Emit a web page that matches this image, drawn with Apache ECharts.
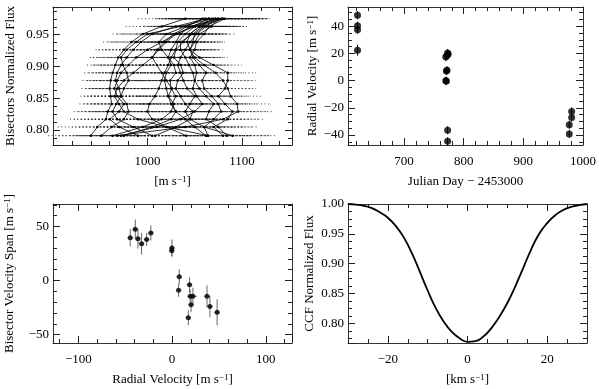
<!DOCTYPE html>
<html>
<head>
<meta charset="utf-8">
<script src="https://cdn.jsdelivr.net/npm/echarts@6/dist/echarts.min.js"></script>
<style>
html, body { margin: 0; padding: 0; background: #fff; }
#main { width: 599px; height: 389px; }
</style>
</head>
<body>
<div id="main"></div>
<script>
// bisector levels (bottom -> top) and one array of velocities per bisector
var levels = [0.7910, 0.8047, 0.8169, 0.8289, 0.8410, 0.8532, 0.8652, 0.8778,
              0.8900, 0.9022, 0.9142, 0.9263, 0.9385, 0.9511, 0.9631, 0.9753];
var levelErr = [45, 42, 38, 36, 34, 32, 30, 30, 30, 30, 30, 30, 30, 32, 38, 50];
var bisectors = [
    [940, 947, 956, 958, 962, 961, 960, 961, 963, 966, 969, 975, 983, 995, 1015, 1040],
    [1005, 985, 968, 963, 967, 972, 970, 966, 968, 972, 978, 985, 993, 1005, 1030, 1062],
    [951, 962, 975, 980, 978, 972, 975, 980, 978, 974, 972, 978, 988, 1000, 1035, 1068],
    [990, 970, 960, 970, 975, 968, 965, 968, 972, 980, 988, 1000, 1015, 1030, 1050, 1072],
    [963, 995, 1015, 1025, 1028, 1022, 1020, 1018, 1020, 1025, 1022, 1015, 1012, 1020, 1040, 1060],
    [975, 1005, 1025, 1030, 1026, 1030, 1025, 1024, 1030, 1028, 1022, 1025, 1030, 1035, 1045, 1075],
    [1062, 1050, 1040, 1030, 1025, 1022, 1026, 1020, 1015, 1010, 1005, 1010, 1018, 1028, 1042, 1058],
    [1008, 1030, 1045, 1048, 1040, 1035, 1030, 1032, 1038, 1035, 1028, 1030, 1032, 1040, 1050, 1078],
    [1041, 1020, 1005, 1000, 1002, 1008, 1012, 1015, 1018, 1022, 1025, 1030, 1038, 1045, 1055, 1070],
    [968, 1040, 1080, 1096, 1095, 1088, 1085, 1080, 1072, 1060, 1050, 1045, 1042, 1045, 1055, 1080],
    [1080, 1070, 1085, 1090, 1082, 1075, 1082, 1085, 1085, 1070, 1055, 1045, 1048, 1050, 1060, 1079],
    [1084, 1075, 1062, 1065, 1070, 1062, 1055, 1050, 1048, 1044, 1040, 1035, 1035, 1048, 1058, 1065],
    [972, 1010, 1035, 1050, 1058, 1052, 1048, 1050, 1052, 1050, 1045, 1050, 1052, 1060, 1065, 1082],
    [1064, 1060, 1070, 1078, 1075, 1068, 1060, 1058, 1062, 1055, 1048, 1045, 1050, 1055, 1068, 1075],
    [1064, 1020, 990, 975, 970, 965, 968, 975, 985, 995, 1005, 1012, 1020, 1030, 1048, 1065],
    [1090, 1060, 1045, 1040, 1045, 1050, 1042, 1038, 1035, 1032, 1035, 1040, 1045, 1052, 1062, 1072]
];

// radial velocities and bisector spans, one entry per spectrum
var jd = [622, 622, 622, 622, 770, 772, 774, 773, 772, 771, 770, 771, 773, 773, 977, 977, 981, 981];
var rv = [48.1, 40.4, 37.3, 22.3, 17.4, 18.7, 19.4, 20.3, 7.7, 7.0, -0.1, -0.3, -36.4, -44.6, -32.5, -39.2, -22.6, -27.1];
var rvErr = [3, 3, 3, 4, 3, 3, 3, 3, 3, 3, 3, 3, 3, 3, 3, 3, 3, 3];
var bvs = [-29.4, -24, -14.6, -14.6, -34.4, -4, -14.6, -22.3, 3.4, -9, 30, 27.5, 38.7, 39.6, 34, 47.4, 44, 38];
var bvsErr = [12, 10, 10, 8, 7, 7, 6, 7, 7, 6, 8, 5, 9, 8, 10, 9, 7, 6];

// cross-correlation function
var ccfVel = [-30, -28, -26, -24, -22, -20, -18, -16, -14, -12, -10, -8, -6, -4, -2, 0,
              2, 4, 6, 8, 10, 12, 14, 16, 18, 20, 22, 24, 26, 28, 30];
var ccfFlux = [1.000, 0.999, 0.997, 0.993, 0.986, 0.977, 0.963, 0.944, 0.918, 0.887, 0.855, 0.826, 0.803, 0.786, 0.775, 0.769,
               0.770, 0.778, 0.792, 0.811, 0.834, 0.862, 0.893, 0.924, 0.950, 0.968, 0.981, 0.990, 0.995, 0.998, 1.000];

// tick labels
var bisXTicks = [1000, 1100];
var bisYTicks = [0.80, 0.85, 0.90, 0.95];
var rvXTicks = [700, 800, 900, 1000];
var rvYTicks = [-40, -20, 0, 20, 40];
var spanXTicks = [-100, 0, 100];
var spanYTicks = [-50, 0, 50];
var ccfXTicks = [-20, 0, 20];
var ccfYTicks = [0.80, 0.85, 0.90, 0.95, 1.00];

var FONT = 'Liberation Serif';
var INK = '#333';

function labelFmt(list, digits) {
    return function (v) {
        for (var i = 0; i < list.length; i++) {
            if (Math.abs(list[i] - v) < 1e-6) {
                var s = digits ? v.toFixed(digits) : String(Math.round(v));
                return s.replace('-', '\u2212');
            }
        }
        return '';
    };
}

var nameStyle = {
    fontFamily: FONT, fontSize: 13, color: '#000',
    rich: { s: { fontFamily: FONT, fontSize: 9, color: '#000', verticalAlign: 'top' } }
};

// 4 axes per dimension: major (labels) + minor (short ticks), on both sides of the frame
function axisSet(dim, grid, o) {
    var list = [];
    var sides = dim == 'x' ? ['bottom', 'top'] : ['left', 'right'];
    sides.forEach(function (side, k) {
        [true, false].forEach(function (major) {
            var labelled = major && k == 0;
            list.push({
                type: 'value',
                gridIndex: grid,
                position: side,
                min: o.min, max: o.max,
                minInterval: major ? o.step : o.minor,
                maxInterval: major ? o.step : o.minor,
                axisLine: { show: major, onZero: false, lineStyle: { color: INK, width: 1 } },
                axisTick: { show: true, inside: true, length: major ? 7 : 4, lineStyle: { color: '#222', width: 1 } },
                splitLine: { show: false },
                axisLabel: {
                    show: labelled, margin: dim == 'x' ? 10 : 4,
                    fontFamily: FONT, fontSize: 13, color: '#000',
                    formatter: labelFmt(o.ticks, o.digits)
                },
                name: labelled ? o.name : '',
                nameLocation: 'middle',
                nameGap: o.gap,
                nameRotate: dim == 'y' ? 90 : 0,
                nameTextStyle: nameStyle
            });
        });
    });
    return list;
}

var xAxes = [].concat(
    axisSet('x', 0, { min: 900, max: 1153, step: 100, minor: 20, ticks: bisXTicks, name: '[m s{s|\u22121}]', gap: 30 }),
    axisSet('x', 1, { min: 606, max: 1000, step: 100, minor: 20, ticks: rvXTicks, name: 'Julian Day \u2212 2453000', gap: 30 }),
    axisSet('x', 2, { min: -127, max: 128, step: 100, minor: 20, ticks: spanXTicks, name: 'Radial Velocity [m s{s|\u22121}]', gap: 30 }),
    axisSet('x', 3, { min: -30, max: 30, step: 20, minor: 5, ticks: ccfXTicks, name: '[km s{s|\u22121}]', gap: 30 })
);
var yAxes = [].concat(
    axisSet('y', 0, { min: 0.7763, max: 0.9937, step: 0.05, minor: 0.0125, ticks: bisYTicks, digits: 2, name: 'Bisectors Normalized Flux', gap: 36 }),
    axisSet('y', 1, { min: -47.3, max: 54.1, step: 20, minor: 5, ticks: rvYTicks, name: 'Radial Velocity [m s{s|\u22121}]', gap: 29 }),
    axisSet('y', 2, { min: -57.8, max: 70.8, step: 50, minor: 10, ticks: spanYTicks, name: 'Bisector Velocity Span [m s{s|\u22121}]', gap: 37 }),
    axisSet('y', 3, { min: 0.767, max: 1.0, step: 0.05, minor: 0.0125, ticks: ccfYTicks, digits: 2, name: 'CCF Normalized Flux', gap: 32 })
);

function hBar(params, api) {
    var y = api.value(1), x = api.value(0), e = api.value(2);
    var a = api.coord([x - e, y]), b = api.coord([x + e, y]);
    return {
        type: 'line',
        shape: { x1: a[0], y1: a[1], x2: b[0], y2: b[1] },
        style: { stroke: '#111', lineWidth: 0.8, lineDash: [1, 2.5] }
    };
}

function vBar(params, api) {
    var x = api.value(0), y = api.value(1), e = api.value(2);
    var a = api.coord([x, y - e]), b = api.coord([x, y + e]);
    return {
        type: 'line',
        shape: { x1: a[0], y1: a[1], x2: b[0], y2: b[1] },
        style: { stroke: '#111', lineWidth: 1 }
    };
}

function crossBar(params, api) {
    var x = api.value(0), y = api.value(1), ex = api.value(2), ey = api.value(3);
    var a = api.coord([x, y - ey]), b = api.coord([x, y + ey]);
    var c = api.coord([x - ex, y]), d = api.coord([x + ex, y]);
    return {
        type: 'group',
        children: [
            { type: 'line', shape: { x1: a[0], y1: a[1], x2: b[0], y2: b[1] }, style: { stroke: '#666', lineWidth: 1 } },
            { type: 'line', shape: { x1: c[0], y1: c[1], x2: d[0], y2: d[1] }, style: { stroke: '#666', lineWidth: 1 } }
        ]
    };
}

var series = [];

// dotted error bars of every bisector point
var bisErrData = [];
bisectors.forEach(function (b) {
    b.forEach(function (x, i) { bisErrData.push([x, levels[i], levelErr[i]]); });
});
series.push({ type: 'custom', xAxisIndex: 0, yAxisIndex: 0, renderItem: hBar, data: bisErrData, silent: true });

bisectors.forEach(function (b) {
    series.push({
        type: 'line', xAxisIndex: 0, yAxisIndex: 0,
        data: b.map(function (x, i) { return [x, levels[i]]; }),
        symbol: 'circle', symbolSize: 2.5, showSymbol: true,
        itemStyle: { color: '#000' },
        lineStyle: { color: '#000', width: 0.8 },
        silent: true
    });
});

// radial velocity vs time
series.push({
    type: 'custom', xAxisIndex: 4, yAxisIndex: 4, renderItem: vBar, silent: true,
    data: jd.map(function (t, i) { return [t, rv[i], rvErr[i]]; })
});
series.push({
    type: 'scatter', xAxisIndex: 4, yAxisIndex: 4, symbolSize: 7,
    itemStyle: { color: '#000' },
    data: jd.map(function (t, i) { return [t, rv[i]]; })
});

// bisector span vs radial velocity
series.push({
    type: 'custom', xAxisIndex: 8, yAxisIndex: 8, renderItem: crossBar, silent: true,
    data: rv.map(function (v, i) { return [v, bvs[i], rvErr[i], bvsErr[i]]; })
});
series.push({
    type: 'scatter', xAxisIndex: 8, yAxisIndex: 8, symbolSize: 5,
    itemStyle: { color: '#000' },
    data: rv.map(function (v, i) { return [v, bvs[i]]; })
});

// CCF
series.push({
    type: 'line', xAxisIndex: 12, yAxisIndex: 12, smooth: true, symbol: 'none',
    lineStyle: { color: '#000', width: 1.8 },
    data: ccfVel.map(function (v, i) { return [v, ccfFlux[i]]; })
});

var option = {
    backgroundColor: '#fff',
    animation: false,
    grid: [
        { left: 53, top: 7, width: 239, height: 138 },
        { left: 348, top: 7, width: 239, height: 138 },
        { left: 53, top: 204, width: 239, height: 139 },
        { left: 348, top: 204, width: 239, height: 139 }
    ],
    xAxis: xAxes,
    yAxis: yAxes,
    series: series
};

var myChart = echarts.init(document.getElementById('main'));
myChart.setOption(option);
</script>
</body>
</html>
